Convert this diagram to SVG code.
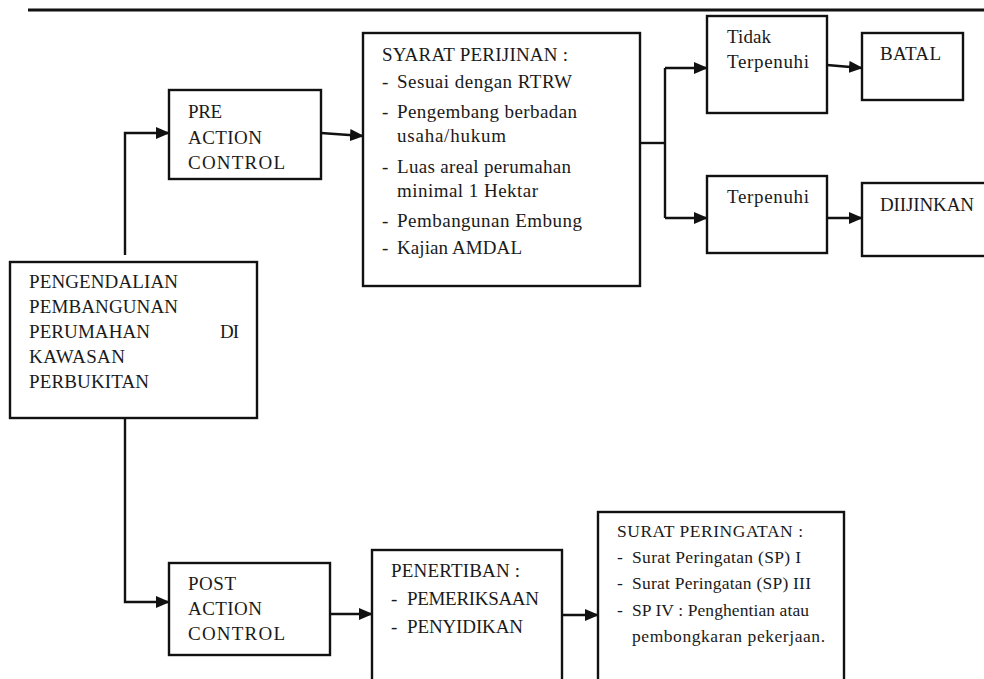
<svg xmlns="http://www.w3.org/2000/svg" width="984" height="679" viewBox="0 0 984 679">
<defs>
<marker id="ah" markerWidth="14" markerHeight="12" refX="13" refY="6" orient="auto" markerUnits="userSpaceOnUse">
<path d="M0,0 L14,6 L0,12 Z" fill="#111"/>
</marker>
<style>
.box{fill:#fff;stroke:#111;stroke-width:2.4}
.t{font-family:"Liberation Serif","Times New Roman",serif;font-size:19px;fill:#1a1a1a}
.s{font-family:"Liberation Serif","Times New Roman",serif;font-size:17.5px;fill:#1a1a1a}
.c{fill:none;stroke:#111;stroke-width:2.4}
</style>
</defs>
<rect width="984" height="679" fill="#fff"/>
<line x1="28" y1="10" x2="984" y2="10" stroke="#111" stroke-width="3.2"/>
<g id="connectors">
<path class="c" d="M125,255 V133 H169" marker-end="url(#ah)"/>
<path class="c" d="M321,133 L363,136" marker-end="url(#ah)"/>
<path class="c" d="M640,143 H665"/>
<path class="c" d="M665,68 V218"/>
<path class="c" d="M665,68 H707" marker-end="url(#ah)"/>
<path class="c" d="M665,218 H707" marker-end="url(#ah)"/>
<path class="c" d="M827,65 L862,68" marker-end="url(#ah)"/>
<path class="c" d="M827,218 H862" marker-end="url(#ah)"/>
<path class="c" d="M125,418 V602 H169" marker-end="url(#ah)"/>
<path class="c" d="M330,614 H372" marker-end="url(#ah)"/>
<path class="c" d="M562,615 H598" marker-end="url(#ah)"/>
</g>
<g id="main">
<rect class="box" x="10" y="262" width="247" height="156"/>
<text class="t" x="29" y="288" textLength="149">PENGENDALIAN</text>
<text class="t" x="29" y="313" textLength="149">PEMBANGUNAN</text>
<text class="t" x="29" y="338" textLength="121">PERUMAHAN</text>
<text class="t" x="220" y="338" textLength="19">DI</text>
<text class="t" x="29" y="363" textLength="96">KAWASAN</text>
<text class="t" x="29" y="388" textLength="120">PERBUKITAN</text>
</g>
<g id="pre">
<rect class="box" x="169" y="90" width="152" height="89"/>
<text class="t" x="188" y="118" textLength="34">PRE</text>
<text class="t" x="188" y="144" textLength="74">ACTION</text>
<text class="t" x="188" y="169" textLength="97">CONTROL</text>
</g>
<g id="syarat">
<rect class="box" x="363" y="33" width="277" height="253"/>
<text class="t" x="382" y="61" textLength="186">SYARAT PERIJINAN :</text>
<text class="t" x="382" y="88">-</text><text class="t" x="397" y="88" textLength="175">Sesuai dengan RTRW</text>
<text class="t" x="382" y="118">-</text><text class="t" x="397" y="118" textLength="180">Pengembang berbadan</text>
<text class="t" x="397" y="142" textLength="109">usaha/hukum</text>
<text class="t" x="382" y="173">-</text><text class="t" x="397" y="173" textLength="174">Luas areal perumahan</text>
<text class="t" x="397" y="197" textLength="141">minimal 1 Hektar</text>
<text class="t" x="382" y="227">-</text><text class="t" x="397" y="227" textLength="185">Pembangunan Embung</text>
<text class="t" x="382" y="254">-</text><text class="t" x="397" y="254" textLength="125">Kajian AMDAL</text>
</g>
<g id="tidak">
<rect class="box" x="707" y="16" width="120" height="97"/>
<text class="t" x="727" y="43" textLength="44">Tidak</text>
<text class="t" x="727" y="68" textLength="82">Terpenuhi</text>
</g>
<g id="batal">
<rect class="box" x="862" y="33" width="101" height="67"/>
<text class="t" x="880" y="60" textLength="61">BATAL</text>
</g>
<g id="terpenuhi">
<rect class="box" x="707" y="176" width="120" height="77"/>
<text class="t" x="727" y="203" textLength="82">Terpenuhi</text>
</g>
<g id="diijinkan">
<rect class="box" x="862" y="183" width="130" height="73"/>
<text class="t" x="880" y="211" textLength="94">DIIJINKAN</text>
</g>
<g id="post">
<rect class="box" x="169" y="563" width="161" height="92"/>
<text class="t" x="188" y="590" textLength="48">POST</text>
<text class="t" x="188" y="615" textLength="74">ACTION</text>
<text class="t" x="188" y="640" textLength="97">CONTROL</text>
</g>
<g id="penertiban">
<rect class="box" x="372" y="550" width="190" height="140"/>
<text class="t" x="391" y="577" textLength="129">PENERTIBAN :</text>
<text class="t" x="391" y="605">-</text><text class="t" x="407" y="605" textLength="132">PEMERIKSAAN</text>
<text class="t" x="391" y="633">-</text><text class="t" x="407" y="633" textLength="116">PENYIDIKAN</text>
</g>
<g id="surat">
<rect class="box" x="598" y="512" width="246" height="180"/>
<text class="s" x="617" y="537" textLength="186">SURAT PERINGATAN  :</text>
<text class="s" x="617" y="563">-</text><text class="s" x="632" y="563" textLength="169">Surat Peringatan  (SP) I</text>
<text class="s" x="617" y="589">-</text><text class="s" x="632" y="589" textLength="179">Surat Peringatan  (SP) III</text>
<text class="s" x="617" y="616">-</text><text class="s" x="632" y="616" textLength="177">SP IV : Penghentian atau</text>
<text class="s" x="632" y="642" textLength="193">pembongkaran pekerjaan.</text>
</g>
</svg>
